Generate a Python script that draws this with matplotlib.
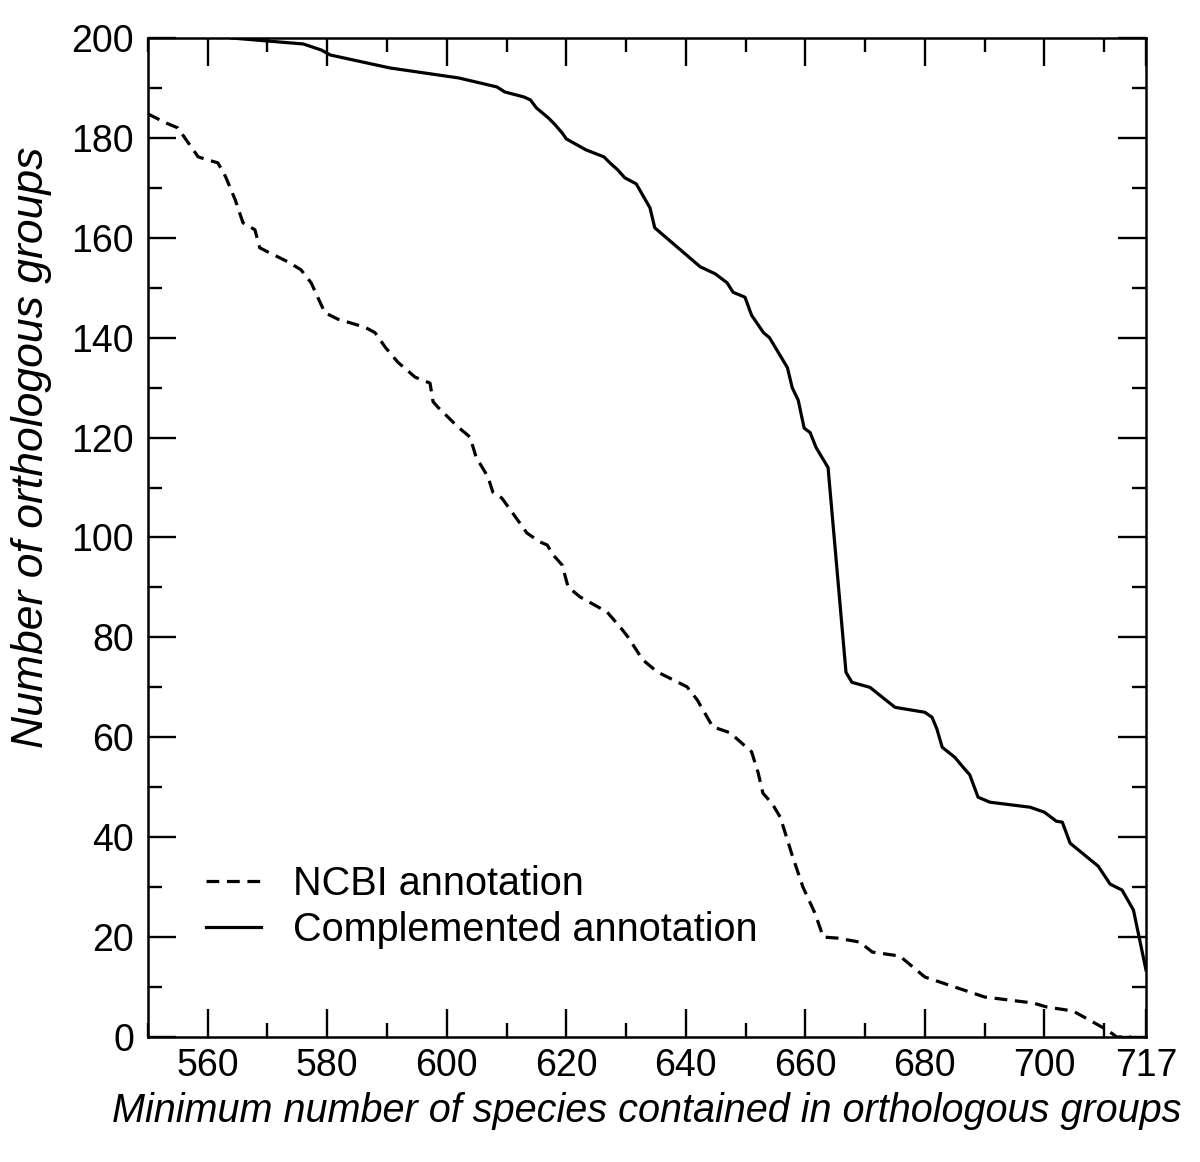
import matplotlib.pyplot as plt
from matplotlib.ticker import MultipleLocator

plt.rcParams['font.family'] = ['Liberation Sans', 'DejaVu Sans']

# Complemented annotation (solid)
comp_x = [564, 576, 579, 580.5, 590.5, 602, 608.4, 609.7, 612.9, 614, 615, 617, 618, 619.3, 620,
          621.5, 623.3, 626.3, 627.3, 628.6, 629.8, 631.7, 634, 634.8, 642.4, 644.9, 646.9, 647.9,
          649.9, 651, 653, 654, 657, 657.8, 658.8, 659.8, 660.8, 661.8, 663.8, 666.8, 667.8, 670.8,
          675, 680, 681.2, 682, 682.9, 685, 686.4, 687.5, 688.9, 690.9, 697.6, 700, 702, 703, 704.3,
          709, 711, 713, 714.9, 717]
comp_y = [200, 198.8, 197.6, 196.6, 194, 192, 190.2, 189.2, 188.2, 187.6, 186, 184, 182.8, 181, 179.8,
          178.8, 177.6, 176.2, 175, 173.6, 172, 170.8, 166, 162, 154.2, 152.8, 151, 149.1,
          148.1, 144.5, 141, 140, 134, 130, 127.5, 121.9, 121, 118, 114, 73, 71, 70,
          66, 65, 64, 61.7, 58, 56, 54, 52.5, 48, 47, 46, 45, 43.2, 43, 38.8,
          34.2, 30.6, 29.4, 25.4, 13.4]

# NCBI annotation (dashed)
ncbi_x = [550, 553, 555, 558.4, 560, 561.7, 563, 564.6, 565.9, 567.9, 568.7, 570, 573.4, 575.6,
          577.3, 579.6, 581.8, 586.3, 588, 589.7, 591.8, 594.7, 597.2, 597.7, 598.5, 601.9, 603.9,
          604.9, 606.9, 607.7, 609.2, 610.9, 613.4, 615.6, 616.8, 617.8, 619.3, 620.3, 622.3, 626.8,
          629, 630.3, 632.8, 635.2, 640.2, 641.9, 644.5, 647.4, 651, 652.1, 652.9, 654.4, 655.8,
          657.9, 659.6, 661.6, 663, 665.3, 669.1, 671.2, 675.8, 680, 682.5, 688, 690, 698.1, 700.4,
          704.8, 708.1, 710.5, 712.1, 714.5]
ncbi_y = [184.8, 183, 182, 176.2, 175.6, 175, 172.2, 167.6, 163, 161.6, 158, 157.2, 155.2, 153.6,
          151, 145, 143.7, 142.1, 141, 138.1, 135.1, 132.1, 130.9, 127.2, 126.1, 122.1, 120.1,
          116.1, 112.1, 109.1, 107.9, 105.1, 100.9, 99.1, 98.5, 96.5, 94.5, 90.1, 88.1, 85.1,
          82.1, 80.1, 75.5, 73.1, 70.1, 67.5, 62.1, 60.9, 57.1, 52.9, 48.8, 46.8, 44,
          36, 30, 24.8, 20, 19.8, 19, 17, 16.2, 12, 11, 8.8, 8, 6.8, 6,
          5.2, 3, 1.4, 0, 0]

x_ticks = [560, 580, 600, 620, 640, 660, 680, 700, 717]

fig = plt.figure(figsize=(12, 11.62), dpi=100)
ax = fig.add_axes([0.1233, 0.1076, 0.8317, 0.8597])

ax.plot(ncbi_x, ncbi_y, color='black', lw=2.3, ls=(0, (4, 2.4)), label='NCBI annotation')
ax.plot(comp_x, comp_y, color='black', lw=2.3, label='Complemented annotation')

ax.set_xlim(550, 717)
ax.set_ylim(0, 200)
ax.set_xticks(x_ticks)
ax.xaxis.set_minor_locator(MultipleLocator(10))
ax.yaxis.set_major_locator(MultipleLocator(20))
ax.yaxis.set_minor_locator(MultipleLocator(10))
ax.tick_params(which='both', direction='in', top=True, right=True, width=1.7, labelsize=27)
ax.tick_params(which='major', length=20)
ax.tick_params(which='minor', length=10)
ax.tick_params(axis='y', pad=10)
ax.tick_params(axis='x', pad=8)
for s in ax.spines.values():
    s.set_linewidth(1.8)

ax.set_xlabel('Minimum number of species contained in orthologous groups', fontsize=28.5, style='italic', labelpad=6)
ax.set_ylabel('Number of orthologous groups', fontsize=32, style='italic')
ax.yaxis.set_label_coords(-0.096, 0.59)

ax.legend(loc='lower left', bbox_to_anchor=(0.038, 0.068), frameon=False, fontsize=28.5,
          handlelength=1.4, handletextpad=0.8, labelspacing=0.2, borderpad=0)

plt.savefig('out.png', dpi=100)
